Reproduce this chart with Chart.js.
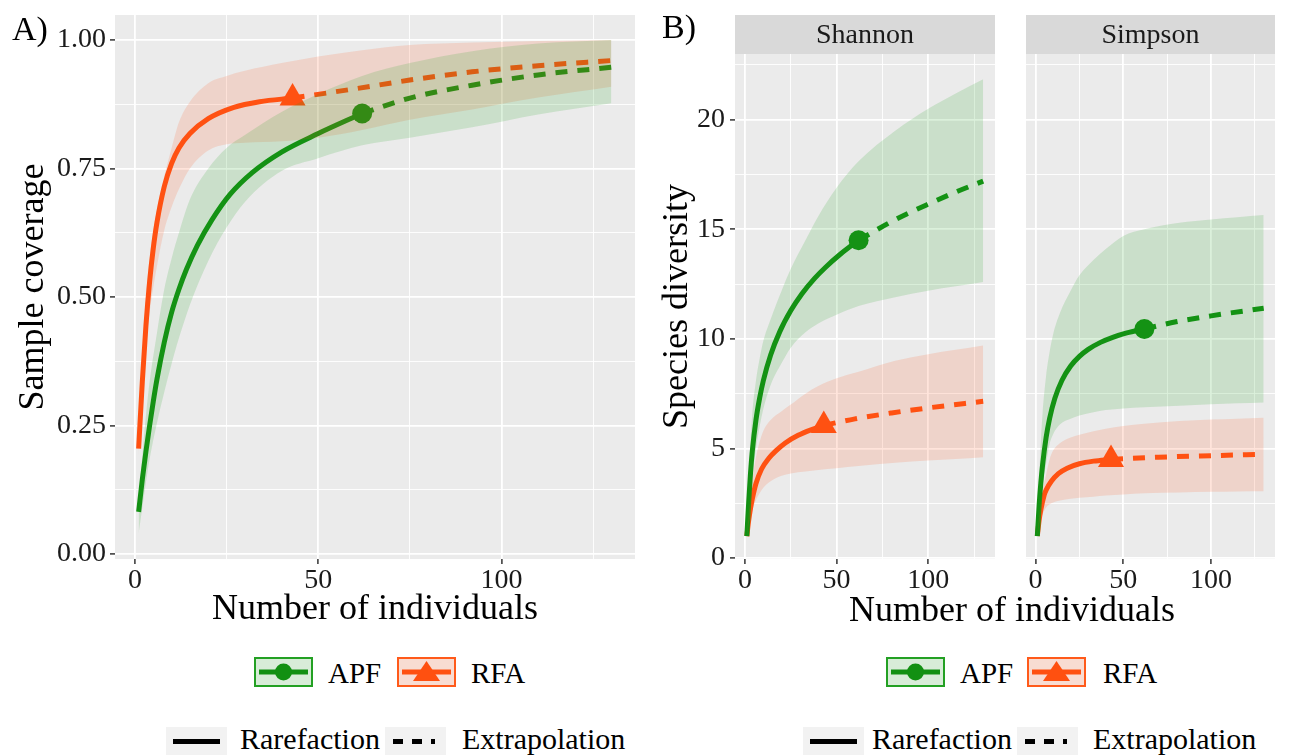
<!DOCTYPE html>
<html>
<head>
<meta charset="utf-8">
<title>Coverage and diversity curves</title>
<script src="https://cdn.jsdelivr.net/npm/chart.js@4.4.1/dist/chart.umd.min.js"></script>
<style>
  body { margin: 0; width: 1290px; height: 755px; overflow: hidden; background: #fff; position: relative;
         font-family: "Liberation Serif", "Times New Roman", serif; color: #000; }
  canvas { position: absolute; top: 0; }
  .txt { position: absolute; white-space: nowrap; line-height: 1; }
  .key { position: absolute; display: block; }
</style>
</head>
<body>
<canvas id="coverage" width="650" height="640" style="left:0"></canvas>
<canvas id="shannon" width="360" height="640" style="left:650px"></canvas>
<canvas id="simpson" width="279" height="640" style="left:1011px"></canvas>

<div class="txt" style="left:12px;top:12px;font-size:34px">A)</div>
<div class="txt" style="left:662px;top:10px;font-size:34px">B)</div>
<div class="txt" style="left:1012px;top:591px;font-size:36px;transform:translateX(-50%)">Number of individuals</div>
<div id="legends"></div>

<script>
// labels
const sites = ["APF", "RFA"];
const refSize = [62, 43];
const lineTypes = ["Rarefaction", "Extrapolation"];
const facets = ["Shannon", "Simpson"];

// ticks
const xMajorTicks = [0, 50, 100];
const xMinorTicks = [25, 75, 125];
const covMajorTicks = [0, 0.25, 0.5, 0.75, 1];
const covTickLabels = ["0.00", "0.25", "0.50", "0.75", "1.00"];
const covMinorTicks = [0.125, 0.375, 0.625, 0.875];
const divMajorTicks = [0, 5, 10, 15, 20];
const divTickLabels = ["0", "5", "10", "15", "20"];
const divMinorTicks = [2.5, 7.5, 12.5, 17.5, 22.5];

// A) sample coverage
const apfCovRareX = [1, 2, 3, 4, 5, 6, 8, 10, 12, 14, 17, 21, 26, 32, 40, 50, 62];
const apfCovRareY = [0.082, 0.145, 0.20, 0.25, 0.297, 0.34, 0.412, 0.47, 0.515, 0.553, 0.60, 0.65, 0.70, 0.742, 0.782, 0.818, 0.857];
const apfCovExtX = [62, 75, 92, 110, 130];
const apfCovExtY = [0.857, 0.887, 0.912, 0.932, 0.947];
const rfaCovRareX = [1, 2, 3, 4, 5, 6, 8, 10, 12, 15, 20, 27, 34, 43];
const rfaCovRareY = [0.205, 0.335, 0.445, 0.53, 0.595, 0.645, 0.715, 0.76, 0.79, 0.818, 0.847, 0.869, 0.88, 0.887];
const rfaCovExtX = [43, 60, 75, 92, 110, 130];
const rfaCovExtY = [0.887, 0.905, 0.922, 0.938, 0.95, 0.96];

const covBandX = [1, 2, 3, 4, 6, 8, 10, 12, 15, 20, 25, 30, 40, 50, 62, 75, 92, 110, 130];
const apfCovUpper = [0.10, 0.19, 0.27, 0.335, 0.43, 0.515, 0.575, 0.625, 0.69, 0.75, 0.79, 0.815, 0.86, 0.895, 0.93, 0.955, 0.978, 0.993, 1.0];
const apfCovLower = [0.04, 0.09, 0.14, 0.185, 0.255, 0.315, 0.37, 0.42, 0.485, 0.57, 0.635, 0.685, 0.745, 0.77, 0.795, 0.81, 0.83, 0.855, 0.877];
const rfaCovUpper = [0.22, 0.37, 0.50, 0.575, 0.67, 0.735, 0.79, 0.84, 0.88, 0.916, 0.93, 0.94, 0.955, 0.968, 0.98, 0.99, 0.995, 0.998, 1.0];
const rfaCovLower = [0.19, 0.31, 0.40, 0.47, 0.56, 0.63, 0.675, 0.71, 0.75, 0.785, 0.797, 0.80, 0.803, 0.81, 0.825, 0.845, 0.865, 0.888, 0.909];

// B) Shannon
const apfShanRareX = [1, 2, 3, 4, 6, 8, 10, 14, 19, 25, 31, 38, 44, 52, 62];
const apfShanRareY = [1.0, 2.5, 3.85, 4.88, 6.3, 7.3, 8.09, 9.26, 10.33, 11.29, 12.05, 12.76, 13.27, 13.86, 14.5];
const apfShanExtX = [62, 80, 100, 115, 130];
const apfShanExtY = [14.5, 15.35, 16.15, 16.7, 17.2];
const rfaShanRareX = [1, 2, 3, 4, 6, 9, 13, 17, 22, 29, 36, 43];
const rfaShanRareY = [1.0, 1.7, 2.25, 2.7, 3.4, 4.05, 4.55, 4.9, 5.25, 5.6, 5.85, 6.05];
const rfaShanExtX = [43, 60, 80, 100, 130];
const rfaShanExtY = [6.05, 6.35, 6.62, 6.85, 7.15];

const divBandX = [1, 2, 3, 4, 6, 8, 10, 14, 20, 25, 33, 40, 50, 62, 82, 100, 115, 130];
const apfShanUpper = [1.1, 3.6, 5.3, 6.6, 8.1, 9.1, 9.9, 10.9, 12.2, 13.2, 14.5, 15.6, 16.9, 18.1, 19.5, 20.5, 21.2, 21.85];
const apfShanLower = [0.95, 2.0, 2.9, 3.7, 5.0, 6.0, 6.8, 7.9, 8.9, 9.6, 10.3, 10.7, 11.1, 11.5, 11.9, 12.2, 12.4, 12.6];
const rfaShanUpper = [1.05, 2.0, 2.9, 3.6, 4.6, 5.3, 5.8, 6.3, 6.7, 7.0, 7.5, 7.85, 8.2, 8.5, 9.0, 9.3, 9.5, 9.7];
const rfaShanLower = [0.95, 1.5, 1.9, 2.2, 2.65, 2.95, 3.2, 3.5, 3.75, 3.86, 3.95, 4.02, 4.1, 4.2, 4.35, 4.45, 4.52, 4.6];

// B) Simpson
const apfSimpRareX = [1, 2, 3, 4, 6, 8, 11, 15, 20, 25, 30, 37, 44, 52, 62];
const apfSimpRareY = [1.0, 2.37, 3.42, 4.25, 5.49, 6.37, 7.29, 8.1, 8.76, 9.2, 9.52, 9.84, 10.07, 10.27, 10.45];
const apfSimpExtX = [62, 80, 100, 130];
const apfSimpExtY = [10.45, 10.78, 11.05, 11.4];
const rfaSimpRareX = [1, 2, 3, 5, 6, 9, 13, 18, 25, 33, 43];
const rfaSimpRareY = [1.0, 1.7, 2.2, 2.9, 3.1, 3.5, 3.85, 4.1, 4.3, 4.42, 4.5];
const rfaSimpExtX = [43, 70, 100, 130];
const rfaSimpExtY = [4.5, 4.6, 4.67, 4.73];

const apfSimpUpper = [1.1, 3.5, 5.3, 6.6, 8.3, 9.4, 10.2, 11.2, 12.2, 12.9, 13.6, 14.1, 14.7, 15.0, 15.3, 15.45, 15.55, 15.65];
const apfSimpLower = [0.95, 2.0, 2.8, 3.4, 4.3, 5.2, 5.65, 6.1, 6.35, 6.5, 6.65, 6.75, 6.82, 6.88, 6.95, 7.02, 7.06, 7.1];
const rfaSimpUpper = [1.05, 1.9, 2.6, 3.1, 3.8, 4.5, 4.9, 5.25, 5.5, 5.62, 5.78, 5.9, 6.02, 6.13, 6.25, 6.32, 6.36, 6.4];
const rfaSimpLower = [0.95, 1.5, 1.8, 2.0, 2.3, 2.45, 2.53, 2.62, 2.7, 2.75, 2.8, 2.85, 2.9, 2.95, 2.99, 3.02, 3.04, 3.05];

// styling
const siteColors = ["#129012", "#ff5010"];
const bandColors = ["rgba(30,160,30,0.16)", "rgba(255,90,30,0.16)"];
const keyFills = ["#d8ecd8", "#f8dcd2"];
const keyBorders = ["#23a023", "#ff5a1a"];
const pointStyles = ["circle", "triangle"];
const pointSizes = [10, 15];
const serif = "'Liberation Serif', 'Times New Roman', serif";

const zip = (xs, ys) => xs.map((x, i) => ({ x: x, y: ys[i] }));

function siteDatasets(i, rareX, rareY, extX, extY, bandX, upper, lower) {
  const c = siteColors[i];
  const line = { borderColor: c, borderWidth: 5, pointRadius: 0, fill: false,
                 cubicInterpolationMode: "monotone", order: 2 };
  return [
    Object.assign({ label: sites[i] + " " + lineTypes[0], data: zip(rareX, rareY) }, line),
    Object.assign({ label: sites[i] + " " + lineTypes[1], data: zip(extX, extY), borderDash: [12, 10] }, line),
    { label: sites[i], data: [{ x: refSize[i], y: rareY[rareY.length - 1] }], showLine: false,
      pointStyle: pointStyles[i], pointRadius: pointSizes[i], pointBackgroundColor: c,
      pointBorderWidth: 0, order: 1 },
    { label: sites[i] + " upper", data: zip(bandX, upper), borderWidth: 0, pointRadius: 0,
      cubicInterpolationMode: "monotone", fill: "+1", backgroundColor: bandColors[i], order: 0 },
    { label: sites[i] + " lower", data: zip(bandX, lower), borderWidth: 0, pointRadius: 0,
      cubicInterpolationMode: "monotone", fill: false, order: 0 }
  ];
}

// grey panel + facet strip
const panelBg = {
  id: "panelBg",
  beforeDraw(chart, args, opts) {
    const { ctx, chartArea: a } = chart;
    ctx.save();
    ctx.fillStyle = "#ebebeb";
    ctx.fillRect(a.left, a.top, a.right - a.left, a.bottom - a.top);
    if (opts.strip) {
      ctx.fillStyle = "#d9d9d9";
      ctx.fillRect(a.left, 15, a.right - a.left, a.top - 15);
      ctx.fillStyle = "#1a1a1a";
      ctx.font = "28px " + serif;
      ctx.textAlign = "center";
      ctx.textBaseline = "middle";
      ctx.fillText(opts.strip, (a.left + a.right) / 2, (15 + a.top) / 2 + 1);
    }
    ctx.restore();
  }
};

function gridOpts(majors) {
  return {
    color: "#ffffff",
    lineWidth: c => (c.tick && majors.includes(c.tick.value)) ? 1.8 : 0.9,
    tickColor: c => (c.tick && majors.includes(c.tick.value)) ? "#333333" : "rgba(0,0,0,0)",
    tickWidth: 1.5,
    tickLength: 5
  };
}

function xScale(title) {
  return {
    type: "linear", min: -5.45, max: 136.45,
    afterBuildTicks: s => { s.ticks = xMajorTicks.concat(xMinorTicks).sort((a, b) => a - b).map(v => ({ value: v })); },
    afterFit: s => { s.height = 81; s.paddingLeft = 0; s.paddingRight = 0; },
    ticks: { autoSkip: false, maxRotation: 0, padding: 0, color: "#1a1a1a",
             font: { family: serif, size: 28 },
             callback: v => xMajorTicks.includes(v) ? String(v) : "" },
    grid: gridOpts(xMajorTicks),
    border: { display: false },
    title: title ? { display: true, text: title, color: "#000", font: { family: serif, size: 36 },
                     padding: { top: 0, bottom: 9 } } : { display: false }
  };
}

function yScale(cfg) {
  const labelOf = v => { const k = cfg.majors.indexOf(v); return k >= 0 ? cfg.labels[k] : ""; };
  return {
    type: "linear", min: cfg.min, max: cfg.max,
    afterBuildTicks: s => { s.ticks = cfg.majors.concat(cfg.minors).sort((a, b) => a - b).map(v => ({ value: v })); },
    afterFit: s => { s.width = cfg.width; s.paddingTop = 0; s.paddingBottom = 0; },
    ticks: { display: cfg.showLabels, autoSkip: false, padding: cfg.tickPad, color: "#1a1a1a",
             font: { family: serif, size: 28 }, callback: labelOf },
    grid: Object.assign(gridOpts(cfg.majors), { drawTicks: cfg.showLabels }),
    border: { display: false },
    title: cfg.title ? { display: true, text: cfg.title, color: "#000", font: { family: serif, size: 36 },
                         padding: { top: cfg.titlePad, bottom: 0 } } : { display: false }
  };
}

function panelChart(id, datasets, padding, strip, xTitle, yCfg) {
  return new Chart(document.getElementById(id), {
    type: "line",
    data: { datasets: datasets },
    plugins: [panelBg],
    options: {
      responsive: false, animation: false, events: [],
      layout: { padding: padding },
      plugins: { legend: { display: false }, tooltip: { enabled: false }, panelBg: { strip: strip } },
      scales: { x: xScale(xTitle), y: yScale(yCfg) }
    }
  });
}

panelChart("coverage",
  siteDatasets(0, apfCovRareX, apfCovRareY, apfCovExtX, apfCovExtY, covBandX, apfCovUpper, apfCovLower)
    .concat(siteDatasets(1, rfaCovRareX, rfaCovRareY, rfaCovExtX, rfaCovExtY, covBandX, rfaCovUpper, rfaCovLower)),
  { top: 15, right: 5, left: 0, bottom: 0 }, null, "Number of individuals",
  { min: -0.0097, max: 1.0486, majors: covMajorTicks, minors: covMinorTicks, labels: covTickLabels,
    width: 115, showLabels: true, tickPad: 4, title: "Sample coverage", titlePad: 12 });

panelChart("shannon",
  siteDatasets(0, apfShanRareX, apfShanRareY, apfShanExtX, apfShanExtY, divBandX, apfShanUpper, apfShanLower)
    .concat(siteDatasets(1, rfaShanRareX, rfaShanRareY, rfaShanExtX, rfaShanExtY, divBandX, rfaShanUpper, rfaShanLower)),
  { top: 54, right: 3, left: 0, bottom: 0 }, facets[0], null,
  { min: -0.046, max: 23.0, majors: divMajorTicks, minors: divMinorTicks, labels: divTickLabels,
    width: 85, showLabels: true, tickPad: 5, title: "Species diversity", titlePad: 6 });

panelChart("simpson",
  siteDatasets(0, apfSimpRareX, apfSimpRareY, apfSimpExtX, apfSimpExtY, divBandX, apfSimpUpper, apfSimpLower)
    .concat(siteDatasets(1, rfaSimpRareX, rfaSimpRareY, rfaSimpExtX, rfaSimpExtY, divBandX, rfaSimpUpper, rfaSimpLower)),
  { top: 54, right: 1, left: 0, bottom: 0 }, facets[1], null,
  { min: -0.046, max: 23.0, majors: divMajorTicks, minors: divMinorTicks, labels: divTickLabels,
    width: 6, showLabels: false, tickPad: 0, title: null, titlePad: 0 });

// legends under each panel
const legendPos = [
  { siteKey: [254, 397], siteText: [328, 471], typeKey: [166, 385], typeText: [240, 462] },
  { siteKey: [886, 1027], siteText: [960, 1103], typeKey: [803, 1017], typeText: [872, 1093] }
];

function siteKeySvg(i) {
  const c = siteColors[i];
  const mark = i === 0
    ? '<circle cx="29.5" cy="15" r="8.5" fill="' + c + '"/>'
    : '<polygon points="29.5,4 43,24 16,24" fill="' + c + '"/>';
  return '<svg width="59" height="30"><rect x="1" y="1" width="57" height="28" fill="' + keyFills[i] +
    '" stroke="' + keyBorders[i] + '" stroke-width="2"/><line x1="5" y1="15" x2="54" y2="15" stroke="' + c +
    '" stroke-width="5"/>' + mark + '</svg>';
}

function typeKeySvg(j) {
  const dash = j === 1 ? ' stroke-dasharray="10 9"' : '';
  const x1 = j === 1 ? 8 : 7, x2 = j === 1 ? 50 : 54;
  return '<svg width="61" height="28"><rect width="61" height="28" fill="#f2f2f2"/><line x1="' + x1 +
    '" y1="14.5" x2="' + x2 + '" y2="14.5" stroke="#000" stroke-width="5"' + dash + '/></svg>';
}

let html = "";
legendPos.forEach(p => {
  sites.forEach((s, i) => {
    html += '<div class="key" style="left:' + p.siteKey[i] + 'px;top:657px">' + siteKeySvg(i) + '</div>';
    html += '<div class="txt" style="left:' + p.siteText[i] + 'px;top:659px;font-size:29px">' + s + '</div>';
  });
  lineTypes.forEach((t, j) => {
    html += '<div class="key" style="left:' + p.typeKey[j] + 'px;top:727px">' + typeKeySvg(j) + '</div>';
    html += '<div class="txt" style="left:' + p.typeText[j] + 'px;top:724px;font-size:30px">' + t + '</div>';
  });
});
document.getElementById("legends").innerHTML = html;
</script>
</body>
</html>
